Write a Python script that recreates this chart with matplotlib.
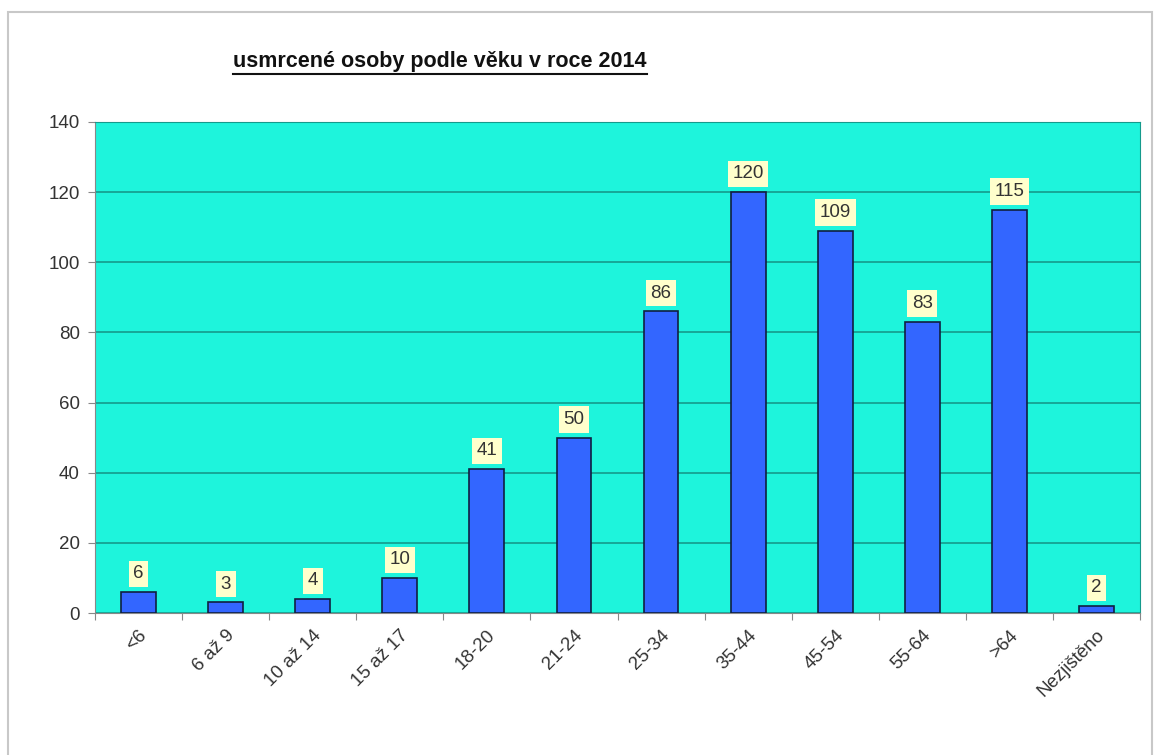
import numpy as np
import matplotlib
matplotlib.use('Agg')
import matplotlib.pyplot as plt
from matplotlib.patches import Rectangle

plt.rcParams['font.family'] = ['Liberation Sans', 'DejaVu Sans']

# data
kategorie = ['<6', '6 až 9', '10 až 14', '15 až 17', '18-20', '21-24', '25-34',
             '35-44', '45-54', '55-64', '>64', 'Nezjištěno']
pocty = [6, 3, 4, 10, 41, 50, 86, 120, 109, 83, 115, 2]
titulek = 'usmrcené osoby podle věku v roce 2014'

fig = plt.figure(figsize=(11.57, 7.55), dpi=100)
fig.patches.append(Rectangle((8 / 1157, -0.01), 1144 / 1157, 1 - 12 / 755 + 0.01,
                             transform=fig.transFigure, fill=False,
                             edgecolor='#c8c8c8', linewidth=1.5))

ax = fig.add_axes([95 / 1157, 1 - 613 / 755, 1045 / 1157, 491 / 755])
ax.set_facecolor('#1ef4dc')
x = np.arange(len(kategorie))
ax.bar(x, pocty, width=0.4, color='#3366ff', edgecolor='#102040', linewidth=1.2, zorder=3)

for xi, v in zip(x, pocty):
    ax.annotate(str(v), (xi, v), xytext=(0, 7), textcoords='offset points',
                ha='center', va='bottom', fontsize=13.5, color='#333333', zorder=4,
                bbox=dict(boxstyle='square,pad=0.25', fc='#ffffcc', ec='none'))

ax.set_xlim(-0.5, len(kategorie) - 0.5)
ax.set_ylim(0, 140)
ax.set_yticks(np.arange(0, 141, 20))
ax.yaxis.grid(True, color='#159a8c', linewidth=1.2, zorder=0)
ax.set_axisbelow(True)
ax.set_xticks(np.arange(-0.5, len(kategorie)), minor=False)
ax.set_xticklabels([])
ax.set_xticks(x, minor=True)
ax.set_xticklabels(kategorie, minor=True, rotation=45, ha='right', va='top',
                   rotation_mode='anchor', fontsize=13.5, color='#333333')
ax.tick_params(axis='x', which='minor', length=0, pad=10)
ax.tick_params(axis='x', which='major', length=5, color='#888888')
ax.tick_params(axis='y', length=5, color='#888888', labelsize=13.5, labelcolor='#333333', pad=6)
for s in ['top', 'right']:
    ax.spines[s].set_color('#159a8c')
for s in ['left', 'bottom']:
    ax.spines[s].set_color('#888888')

t = fig.text(440 / 1157, 1 - 62 / 755, titulek, ha='center', va='center',
             fontsize=15.5, fontweight='bold', color='#111111')
fig.canvas.draw()
bb = t.get_window_extent().transformed(fig.transFigure.inverted())
fig.add_artist(plt.Line2D([bb.x0, bb.x1], [bb.y0 - 0.002, bb.y0 - 0.002],
                          transform=fig.transFigure, color='#111111', linewidth=1.5))

fig.savefig('out.png', dpi=100)
